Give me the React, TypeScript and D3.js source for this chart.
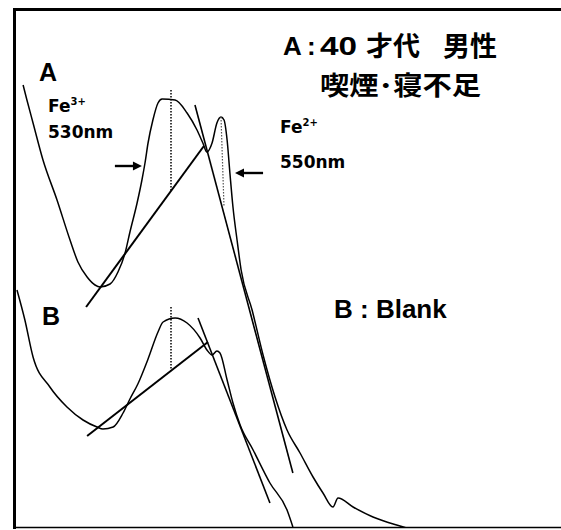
import React from "react";
import * as d3 from "d3";

// Spectrum A (40s male, smoking / lack of sleep): wavelength (nm) and absorbance
const wavelengthA = [472.0, 473.5, 475.9, 479.8, 485.3, 490.4, 493.5, 497.1, 500.2, 502.2, 506.1, 509.2, 512.0, 513.9, 516.7, 518.6, 519.8, 521.0, 522.9, 524.9, 526.5, 531.6, 536.3, 540.2, 542.5, 544.1, 546.1, 548.0, 549.6, 550.8, 552.0, 553.1, 554.3, 555.9, 557.5, 561.8, 566.1, 570.8, 575.5, 580.6, 585.7, 589.6, 593.5, 595.5, 601.4, 609.2, 619.8, 626.5];
const absorbanceA = [0.890, 0.860, 0.814, 0.740, 0.660, 0.580, 0.536, 0.506, 0.490, 0.486, 0.492, 0.516, 0.554, 0.596, 0.654, 0.700, 0.734, 0.774, 0.820, 0.854, 0.862, 0.860, 0.834, 0.800, 0.774, 0.756, 0.774, 0.814, 0.826, 0.820, 0.780, 0.714, 0.646, 0.580, 0.520, 0.440, 0.350, 0.266, 0.200, 0.154, 0.106, 0.074, 0.046, 0.064, 0.046, 0.026, 0.008, -0.002];

// Spectrum B (blank)
const wavelengthB = [469.6, 472.7, 475.9, 482.5, 489.2, 495.5, 501.0, 503.3, 507.3, 511.2, 513.9, 517.0, 521.0, 524.9, 526.9, 531.6, 536.3, 541.4, 544.1, 546.1, 548.0, 549.2, 552.0, 554.3, 557.1, 562.2, 568.8, 575.5, 577.8];
const absorbanceB = [0.480, 0.420, 0.346, 0.286, 0.246, 0.220, 0.206, 0.202, 0.206, 0.234, 0.262, 0.292, 0.342, 0.396, 0.416, 0.424, 0.414, 0.384, 0.360, 0.350, 0.358, 0.354, 0.300, 0.254, 0.210, 0.160, 0.094, 0.040, 0.006];

// Tangent (baseline) lines: [wavelength, absorbance] end points
const baseLineA = [[496.7, 0.446], [542.9, 0.768]];
const slopeLineA = [[539.4, 0.850], [577.8, 0.114]];
const baseLineB = [[497.1, 0.188], [544.5, 0.376]];
const slopeLineB = [[540.6, 0.424], [568.8, 0.054]];

// Peak markers
const peakFe3 = 530;
const peakFe2 = 550;
const peakTopA530 = 0.88;
const peakTopA550 = 0.826;
const peakTopB530 = 0.446;

// Arrows: [from wavelength, to wavelength, absorbance]
const arrowFe3 = [508.0, 518.6, 0.728];
const arrowFe2 = [566.1, 555.1, 0.714];

const W = 561;
const H = 530;

function interp(seg: number[][], wl: number) {
  const [a, b] = seg;
  const t = (wl - a[0]) / (b[0] - a[0]);
  return a[1] + t * (b[1] - a[1]);
}

export default function App() {
  const x = d3.scaleLinear().domain([530, 550]).range([171, 222]);
  const y = d3.scaleLinear().domain([0, 1]).range([530, 30]);

  const curve = d3
    .line<[number, number]>()
    .x((d) => x(d[0]))
    .y((d) => y(d[1]))
    .curve(d3.curveMonotoneX);
  const straight = d3
    .line<number[]>()
    .x((d) => x(d[0]))
    .y((d) => y(d[1]));

  const ptsA = wavelengthA.map((w, i) => [w, absorbanceA[i]] as [number, number]);
  const ptsB = wavelengthB.map((w, i) => [w, absorbanceB[i]] as [number, number]);

  const arrow = (a: number[], key: string) => {
    const x1 = x(a[0]);
    const x2 = x(a[1]);
    const yy = y(a[2]);
    const dir = Math.sign(x2 - x1);
    const hl = 9;
    const hw = 4.5;
    return (
      <g key={key}>
        <line x1={x1} y1={yy} x2={x2 - dir * hl * 0.6} y2={yy} stroke="#000" strokeWidth={2.4} />
        <path
          d={`M${x2},${yy} L${x2 - dir * hl},${yy - hw} L${x2 - dir * hl},${yy + hw} Z`}
          fill="#000"
        />
      </g>
    );
  };

  const latin = "'Liberation Sans', Arial, sans-serif";
  const wide = "'DejaVu Sans', sans-serif";
  const cjk = "'Noto Sans CJK JP', sans-serif";

  return (
    <svg
      width={W}
      height={H}
      style={{ position: "absolute", left: 0, top: 0, background: "#fff" }}
    >
      <defs>
        <clipPath id="plot">
          <rect x={16} y={11} width={545} height={516} />
        </clipPath>
      </defs>
      <rect x={0} y={0} width={W} height={H} fill="#fff" />

      {/* frame */}
      <line x1={13} y1={9.5} x2={561} y2={9.5} stroke="#000" strokeWidth={3} />
      <line x1={14.5} y1={8} x2={14.5} y2={529} stroke="#000" strokeWidth={3} />
      <line x1={13} y1={527.5} x2={561} y2={527.5} stroke="#000" strokeWidth={1.5} />

      <g clipPath="url(#plot)" fill="none" stroke="#000">
        <path d={curve(ptsA) || ""} strokeWidth={1.5} />
        <path d={curve(ptsB) || ""} strokeWidth={1.5} />
        <path d={straight(baseLineA) || ""} strokeWidth={2} />
        <path d={straight(slopeLineA) || ""} strokeWidth={1.6} />
        <path d={straight(baseLineB) || ""} strokeWidth={2} />
        <path d={straight(slopeLineB) || ""} strokeWidth={1.6} />

        <line
          x1={x(peakFe3)}
          x2={x(peakFe3)}
          y1={y(peakTopA530)}
          y2={y(interp(baseLineA, peakFe3))}
          strokeWidth={1.5}
          strokeDasharray="1.5,1.5"
        />
        <line
          x1={x(peakFe2) - 1}
          x2={x(peakFe2) + 2}
          y1={y(peakTopA550)}
          y2={y(interp(slopeLineA, peakFe2))}
          strokeWidth={1.2}
          strokeDasharray="1.5,1.5"
          stroke="#555"
        />
        <line
          x1={x(peakFe3)}
          x2={x(peakFe3)}
          y1={y(peakTopB530)}
          y2={y(interp(baseLineB, peakFe3))}
          strokeWidth={1.5}
          strokeDasharray="1.5,1.5"
        />
      </g>

      {arrow(arrowFe3, "a1")}
      {arrow(arrowFe2, "a2")}

      <g fill="#000">
        <text x={39} y={81} fontFamily={latin} fontWeight="bold" fontSize={25}>A</text>
        <text x={42} y={325} fontFamily={latin} fontWeight="bold" fontSize={25}>B</text>

        <text x={48} y={112} fontFamily={wide} fontWeight="bold" fontSize={17}>
          Fe<tspan fontSize={10} dy={-7}>3+</tspan>
        </text>
        <text x={48} y={138} fontFamily={wide} fontWeight="bold" fontSize={17}>530nm</text>

        <text x={280} y={133} fontFamily={wide} fontWeight="bold" fontSize={17}>
          Fe<tspan fontSize={10} dy={-7}>2+</tspan>
        </text>
        <text x={280} y={168} fontFamily={wide} fontWeight="bold" fontSize={17}>550nm</text>

        <text x={283} y={55} fontFamily={latin} fontWeight="bold" fontSize={26}>A</text>
        <text x={307} y={55} fontFamily={latin} fontWeight="bold" fontSize={26}>:</text>
        <text x={320} y={55} fontFamily={latin} fontWeight="bold" fontSize={26} textLength={37} lengthAdjust="spacingAndGlyphs">40</text>
        <text x={366} y={56} fontFamily={cjk} fontWeight="bold" fontSize={27}>才代</text>
        <text x={443} y={56} fontFamily={cjk} fontWeight="bold" fontSize={27}>男性</text>
        <text
          x={320}
          y={95}
          fontFamily={cjk}
          fontWeight="bold"
          fontSize={26}
          textLength={161}
          lengthAdjust="spacingAndGlyphs"
        >
          喫煙･寝不足
        </text>

        <text x={334} y={318} fontFamily={latin} fontWeight="bold" fontSize={26}>B : Blank</text>
      </g>
    </svg>
  );
}
